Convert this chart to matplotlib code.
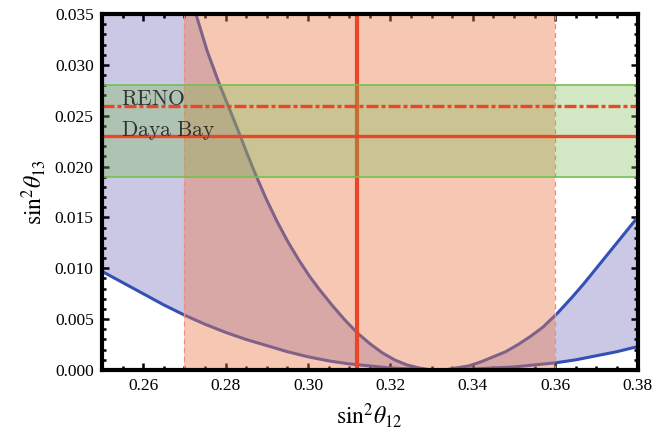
import numpy as np
import matplotlib
matplotlib.use('Agg')
import matplotlib.pyplot as plt
from matplotlib.ticker import MultipleLocator, FormatStrFormatter

plt.rcParams['font.family'] = ['Liberation Serif', 'DejaVu Serif']
plt.rcParams['mathtext.fontset'] = 'stix'

# lower (shallow) curve
low_x = [0.250, 0.255, 0.260, 0.265, 0.270, 0.275, 0.280, 0.285, 0.290, 0.295,
         0.300, 0.305, 0.310, 0.315, 0.320, 0.325, 0.330, 0.335, 0.340, 0.345,
         0.350, 0.355, 0.360, 0.365, 0.370, 0.375, 0.380]
low_y = [0.0097, 0.0086, 0.0075, 0.0064, 0.0054, 0.0045, 0.0037, 0.0030, 0.0024, 0.0018,
         0.0013, 0.0009, 0.0006, 0.0004, 0.0002, 0.0001, 0.0000, 0.0000, 0.0001, 0.0002,
         0.0003, 0.0005, 0.0007, 0.0010, 0.0014, 0.0018, 0.0023]

# upper (steep) curve
up_x = [0.2728, 0.2755, 0.2785, 0.2810, 0.2830, 0.2852, 0.2874, 0.2900, 0.2925, 0.2950,
        0.2978, 0.3004, 0.3030, 0.3060, 0.3090, 0.3121, 0.3150, 0.3180, 0.3210, 0.3240,
        0.3270, 0.3300, 0.3330, 0.3360, 0.3390, 0.3420, 0.3450, 0.3480, 0.3510, 0.3540,
        0.3570, 0.3606, 0.3640, 0.3670, 0.3700, 0.3730, 0.3760, 0.3800]
up_y = [0.0350, 0.0314, 0.0281, 0.0256, 0.0236, 0.0213, 0.0191, 0.0167, 0.0146, 0.0127,
        0.0108, 0.0092, 0.0078, 0.0063, 0.0049, 0.0036, 0.0026, 0.0017, 0.0010, 0.0005,
        0.0002, 0.0000, 0.0000, 0.0002, 0.0004, 0.0008, 0.0013, 0.0018, 0.0025, 0.0033,
        0.0042, 0.0056, 0.0071, 0.0085, 0.0100, 0.0115, 0.0130, 0.0150]

s12_band = (0.27, 0.36)
s12_best = 0.312
s13_band = (0.019, 0.028)
reno = 0.026
dayabay = 0.023

fig = plt.figure(figsize=(6.56, 4.34), dpi=100)
ax = fig.add_axes([102/656, 64/434, 535.5/656, 356/434])
ax.set_xlim(0.25, 0.38)
ax.set_ylim(0, 0.035)

# region between the two curves
poly_x = low_x + up_x[::-1] + [0.25]
poly_y = low_y + up_y[::-1] + [0.035]
ax.fill(poly_x, poly_y, color=(151/255, 147/255, 205/255), alpha=0.5, lw=0, zorder=1)
ax.plot(low_x, low_y, color='#3550b5', lw=2.2, zorder=2, solid_joinstyle='round')
ax.plot(up_x, up_y, color='#3550b5', lw=2.2, zorder=2, solid_joinstyle='round')

# sin^2 theta12 band
ax.axvspan(*s12_band, color=(234/255, 125/255, 78/255), alpha=0.42, lw=0, zorder=3)
for xv in s12_band:
    ax.axvline(xv, color='#ec8c82', lw=0.9, ls=(0, (4, 3)), zorder=3.5)
ax.axvline(s12_best, color='#e9462a', lw=3, zorder=4)

# sin^2 theta13 band
ax.axhspan(*s13_band, color=(123/255, 188/255, 82/255), alpha=0.34, lw=0, zorder=5)
for yv in s13_band:
    ax.axhline(yv, color='#74c04f', lw=1.2, zorder=5.5)
ax.axhline(reno, color='#e9462a', lw=2.4, ls=(0, (3.6, 0.9, 1.2, 0.9)), zorder=6)
ax.axhline(dayabay, color='#e9462a', lw=2.4, zorder=6)

ax.text(0.2546, 0.0261, r'$\mathrm{RENO}$', math_fontfamily='cm', fontsize=15.5,
        color='#333333', va='baseline', zorder=7)
ax.text(0.2546, 0.0230, r'$\mathrm{Daya\ Bay}$', math_fontfamily='cm', fontsize=15.5,
        color='#333333', va='baseline', zorder=7)

ax.xaxis.set_minor_locator(MultipleLocator(0.005))
ax.yaxis.set_major_locator(MultipleLocator(0.005))
ax.yaxis.set_minor_locator(MultipleLocator(0.001))
ax.xaxis.set_major_formatter(FormatStrFormatter('%.2f'))
ax.yaxis.set_major_formatter(FormatStrFormatter('%.3f'))
ax.set_xticks([0.26, 0.28, 0.30, 0.32, 0.34, 0.36, 0.38])
ax.tick_params(which='both', direction='in', top=True, right=True, width=1.8,
               labelsize=12.5, zorder=10)
ax.tick_params(which='major', length=5, pad=6)
ax.tick_params(which='minor', length=3)
for sp in ax.spines.values():
    sp.set_linewidth(3)
    sp.set_zorder(10)

ax.set_xlabel(r'$\mathrm{sin}^2\theta_{12}$', fontsize=17, labelpad=5)
ax.set_ylabel(r'$\mathrm{sin}^2\theta_{13}$', fontsize=17, labelpad=5)

fig.savefig('out.png', dpi=100)
